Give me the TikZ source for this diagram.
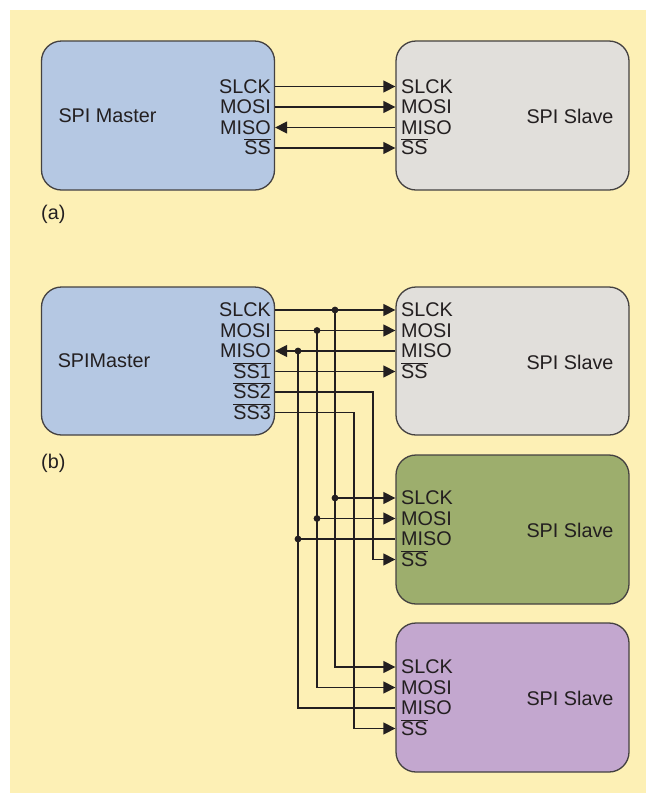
\documentclass[tikz,border=0pt]{standalone}
\usepackage{fontspec}
\setmainfont{Liberation Sans}
\usetikzlibrary{positioning,arrows.meta,calc}
\definecolor{bgyellow}{HTML}{FDF0B5}
\definecolor{mblue}{HTML}{B5C8E3}
\definecolor{sgray}{HTML}{E1DFDB}
\definecolor{sgreen}{HTML}{9DAE6D}
\definecolor{spurple}{HTML}{C3A7CF}
\definecolor{ink}{HTML}{231F20}
\newcommand{\ovl}[1]{\ensuremath{\overline{\mbox{#1}}}}

\tikzset{
  box/.style={draw=ink!85, line width=1.3pt, rounded corners=20pt,
    minimum width=233pt, minimum height=149pt, inner sep=0pt},
  pin/.style={inner sep=0pt, text height=13.8pt, text depth=0pt, text=ink},
  title/.style={inner sep=0pt, text=ink},
  sig/.style={draw=ink, line width=1.4pt},
  tip/.style={-{Triangle[length=12pt,width=12pt]}},
}

\begin{document}
\begin{tikzpicture}[x=1pt, y=-1pt, font=\fontsize{19.8}{21}\selectfont]
\useasboundingbox (0,0) rectangle (646,793);
\fill[bgyellow] (10,10) rectangle (646,793);

% (a) one master, one slave
\node[box, fill=mblue] (mA) at (158,115.5) {};
\node[box, fill=sgray] (sA) at (512.5,115.5) {};
\node[title] (mAname) at (107.5,116) {SPI Master};
\node[title] (sAname) at (570,116) {SPI Slave};
\foreach \n/\t/\y in {slck/SLCK/86.5, mosi/MOSI/107, miso/MISO/127.5, ss/\ovl{SS}/148} {
    \node[pin, anchor=east] (aM-\n) at (271,\y) {\t};
    \node[pin, anchor=west] (aS-\n) at (401,\y) {\t};
}
\draw[sig, tip] (aM-slck -| mA.east) -- (aS-slck -| sA.west);
\draw[sig, tip] (aM-mosi -| mA.east) -- (aS-mosi -| sA.west);
\draw[sig, tip] (aS-miso -| sA.west) -- (aM-miso -| mA.east);
\draw[sig, tip] (aM-ss -| mA.east) -- (aS-ss -| sA.west);
\node[title, anchor=west] (lblA) at (41,214) {(a)};

% (b) one master, three slaves
\node[box, fill=mblue, minimum height=148pt] (mB) at (158,361) {};
\node[box, fill=sgray, minimum height=148pt] (sB1) at (512.5,361) {};
\node[box, fill=sgreen] (sB2) at (512.5,529.5) {};
\node[box, fill=spurple] (sB3) at (512.5,697.5) {};
\node[title] (mBname) at (104,361) {SPIMaster};
\node[title] (sB1name) at (570,362) {SPI Slave};
\node[title] (sB2name) at (570,530) {SPI Slave};
\node[title] (sB3name) at (570,698) {SPI Slave};
\node[title, anchor=west] (lblB) at (41,463) {(b)};

% master pins
\foreach \n/\t/\y in {slck/SLCK/310, mosi/MOSI/330.5, miso/MISO/351, ss1/\ovl{SS1}/371.5, ss2/\ovl{SS2}/392, ss3/\ovl{SS3}/412.5} {
    \node[pin, anchor=east] (bM-\n) at (271,\y) {\t};
}
% slave pins
\foreach \s/\y in {1/310, 2/498, 3/667} {
    \node[pin, anchor=west] (bS\s-slck) at (401,\y) {SLCK};
    \node[pin, anchor=west] (bS\s-mosi) at (401,\y+20.5) {MOSI};
    \node[pin, anchor=west] (bS\s-miso) at (401,\y+41) {MISO};
    \node[pin, anchor=west] (bS\s-ss) at (401,\y+61.5) {\ovl{SS}};
}

% bus columns
\coordinate (xmiso) at (298,0);
\coordinate (xmosi) at (317,0);
\coordinate (xslck) at (335,0);
\coordinate (xss3) at (354,0);
\coordinate (xss2) at (373,0);

% master to first slave
\draw[sig, tip] (bM-slck -| mB.east) -- (bS1-slck -| sB1.west);
\draw[sig, tip] (bM-mosi -| mB.east) -- (bS1-mosi -| sB1.west);
\draw[sig, tip] (bS1-miso -| sB1.west) -- (bM-miso -| mB.east);
\draw[sig, tip] (bM-ss1 -| mB.east) -- (bS1-ss -| sB1.west);

% shared lines down to the other slaves
\draw[sig, tip] (xslck |- bM-slck) -- (xslck |- bS3-slck) -- (bS3-slck -| sB3.west);
\draw[sig, tip] (xslck |- bS2-slck) -- (bS2-slck -| sB2.west);
\draw[sig, tip] (xmosi |- bM-mosi) -- (xmosi |- bS3-mosi) -- (bS3-mosi -| sB3.west);
\draw[sig, tip] (xmosi |- bS2-mosi) -- (bS2-mosi -| sB2.west);
\draw[sig] (xmiso |- bM-miso) -- (xmiso |- bS3-miso) -- (bS3-miso -| sB3.west);
\draw[sig, line width=1.8pt] (xmiso |- bS2-miso) -- (bS2-miso -| sB2.west);

% slave selects
\draw[sig, tip] (bM-ss2 -| mB.east) -- (xss2 |- bM-ss2) -- (xss2 |- bS2-ss) -- (bS2-ss -| sB2.west);
\draw[sig, tip] (bM-ss3 -| mB.east) -- (xss3 |- bM-ss3) -- (xss3 |- bS3-ss) -- (bS3-ss -| sB3.west);

% junctions
\foreach \c/\p in {xslck/bM-slck, xslck/bS2-slck, xmosi/bM-mosi, xmosi/bS2-mosi, xmiso/bM-miso, xmiso/bS2-miso} {
    \fill[ink] (\c |- \p) circle (3.4pt);
}
\end{tikzpicture}
\end{document}
